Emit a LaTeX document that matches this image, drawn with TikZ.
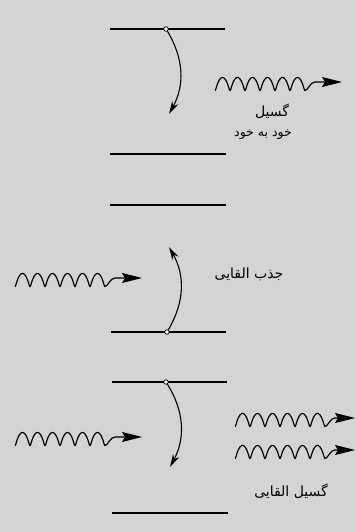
\documentclass[tikz,border=0pt]{standalone}
\usepackage{fontspec}
\newfontfamily\fa[Script=Arabic]{DejaVu Sans}
\TeXXeTstate=1
\usetikzlibrary{arrows.meta}
\definecolor{bg}{RGB}{212,212,212}
\tikzset{
  level/.style={line width=1.4pt},
  trans/.style={line width=1.1pt,-{Stealth[length=13pt,width=7pt]}},
  dot/.style={circle,draw,fill=white,inner sep=0pt,minimum size=4.5pt,line width=0.8pt},
  lbl/.style={font=\fa\fontsize{14}{16}\selectfont,inner sep=0pt},
  photon/.pic={
    \draw[line width=1.2pt,-{Stealth[length=20pt,width=10pt,inset=3pt]}]
      plot[domain=0:37.699,samples=200,smooth] ({2.387*\x-1.3*sin(\x r)},{6.5*cos(\x r)})
      .. controls (93,6.5) and (95,-2) .. (100,-2) -- (#1,-2);
  }
}
\begin{document}
\begin{tikzpicture}[x=1pt,y=-1pt]
\fill[bg] (0,0) rectangle (355,532);
\useasboundingbox (0,0) rectangle (355,532);
\clip (0,0) rectangle (355,532);

% panel 1: spontaneous emission
\coordinate (a1) at (110,29);  \coordinate (a2) at (225,29);
\coordinate (b1) at (110,154); \coordinate (b2) at (226,154);
\draw[level] (a1) -- (a2);
\draw[level] (b1) -- (b2);
\node[dot] (d1) at (166,29) {};
\coordinate (e1) at (169,114);
\draw[trans] (d1) to[bend left=30] (e1);
\pic (p1) at (215,84) {photon=127};
\node[lbl] (t1) at (272,111) {\beginR گسیل\endR};
\node[lbl,font=\fa\fontsize{12.5}{14}\selectfont] (t2) at (263,135) {\beginR خود به خود\endR};

% panel 2: induced absorption
\coordinate (c1) at (110,205); \coordinate (c2) at (226,205);
\coordinate (f1) at (111,332); \coordinate (f2) at (226,332);
\draw[level] (c1) -- (c2);
\draw[level] (f1) -- (f2);
\node[dot] (d2) at (167,332) {};
\coordinate (e2) at (169,247);
\draw[trans] (d2) to[bend right=30] (e2);
\pic (p2) at (15,280) {photon=127};
\node[lbl] (t3) at (249,274) {\beginR جذب القایی\endR};

% panel 3: stimulated emission
\coordinate (g1) at (112,382); \coordinate (g2) at (227,382);
\coordinate (h1) at (112,513); \coordinate (h2) at (228,513);
\draw[level] (g1) -- (g2);
\draw[level] (h1) -- (h2);
\node[dot] (d3) at (166,382) {};
\coordinate (e3) at (170,467);
\draw[trans] (d3) to[bend left=30] (e3);
\pic (p3) at (15,439) {photon=127};
\pic (p4) at (235,420) {photon=120};
\pic (p5) at (235,452) {photon=120};
\node[lbl] (t4) at (291,491) {\beginR گسیل القایی\endR};
\end{tikzpicture}
\end{document}
